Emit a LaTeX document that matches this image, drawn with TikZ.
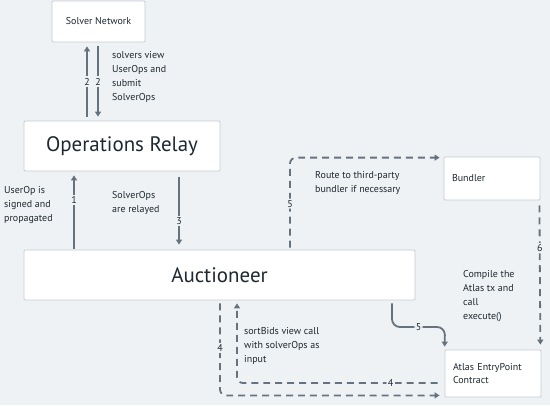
\documentclass[tikz,border=0pt]{standalone}
\usepackage{fontspec}
\setmainfont{PT Sans}
\usetikzlibrary{arrows.meta}
\definecolor{bg}{HTML}{EEF2F5}
\definecolor{edge}{HTML}{C3CCD5}
\definecolor{wire}{HTML}{66737F}
\definecolor{ink}{HTML}{1F2830}
\begin{document}
\begin{tikzpicture}[x=1bp, y=-1bp,
                    every node/.style={text=ink, font=\fontsize{10}{14}\selectfont},
                    box/.style={draw=edge, fill=white, line width=.8pt, rounded corners=1pt},
                    big/.style={font=\fontsize{21}{24}\selectfont},
                    flow/.style={draw=wire, line width=1.8pt, -{Triangle[length=5pt,width=6pt]}},
                    dflow/.style={flow, dash pattern=on 7pt off 5pt, rounded corners=6pt},
                    tag/.style={fill=bg, inner sep=1.5pt},
                    note/.style={align=left, anchor=north west, inner sep=0pt}]
  \fill[bg] (0,0) rectangle (550,405);
  % boxes
  \node[box, minimum width=93bp, minimum height=41bp] (solver) at (98.5,21.5) {Solver Network};
  \node[box, big, minimum width=196bp, minimum height=50bp] (relay) at (122,146) {Operations Relay};
  \node[box, big, minimum width=391bp, minimum height=50bp] (auct) at (219.5,275) {Auctioneer};
  \node[box, minimum width=96bp, minimum height=43bp, text width=80bp, align=left] (bundler) at (492,178.5) {Bundler};
  \node[box, minimum width=96bp, minimum height=47bp, text width=80bp, align=left, font=\fontsize{10}{13}\selectfont] (atlas) at (493,373.5) {Atlas EntryPoint\\Contract};
  % columns of the connectors
  \coordinate (c2up) at (87,0);
  \coordinate (c2dn) at (98,0);
  \coordinate (c1) at (74,0);
  \coordinate (c3) at (179,0);
  \coordinate (c5) at (290,0);
  \coordinate (c5b) at (392,0);
  \coordinate (k5) at (445,327);
  \coordinate (c4) at (220,0);
  \coordinate (c4b) at (237,0);
  % solid flows
  \draw[flow, shorten <=4bp, shorten >=4bp] (relay.north -| c2up) -- node[tag] {2} (solver.south -| c2up);
  \draw[flow, shorten <=4bp, shorten >=4bp] (solver.south -| c2dn) -- node[tag] {2} (relay.north -| c2dn);
  \draw[flow, shorten <=1bp, shorten >=4bp] (auct.north -| c1) -- node[tag, pos=.63] {1} (relay.south -| c1);
  \draw[flow, shorten <=6bp, shorten >=5bp] (relay.south -| c3) -- node[tag, pos=.64] {3} (auct.north -| c3);
  \draw[flow, rounded corners=8pt, shorten <=3bp, shorten >=3bp] (auct.south -| c5b) |- node[tag, pos=.75] {5} (k5) -- (atlas.north west);
  % dashed flows
  \draw[dflow, shorten <=2bp, shorten >=4bp] (auct.north -| c5) |- node[tag, pos=.25] {5} ([yshift=-1bp]bundler.north west);
  \draw[dflow, shorten <=5bp, shorten >=5bp] ([xshift=-1bp]bundler.south east) -- node[tag, pos=.32] {6} ([xshift=-1bp]atlas.north east);
  \draw[dflow, shorten <=3bp, shorten >=5bp] (auct.south -| c4) |- node[tag, pos=.25] {4} ([yshift=2bp]atlas.south west);
  \draw[dflow, shorten <=7bp, shorten >=3bp] ([yshift=-9.5bp]atlas.west) -| node[tag, pos=.13] {4} (auct.south -| c4b);
  % notes
  \node[note] (n2) at (112,51) {solvers view\\UserOps and\\submit\\SolverOps};
  \node[note] (n1) at (4,186) {UserOp is\\signed and\\propagated};
  \node[note] (n3) at (112,191) {SolverOps\\are relayed};
  \node[note] (n5) at (315,171) {Route to third-party\\bundler if necessary};
  \node[note] (n6) at (463,270) {Compile the\\Atlas tx and\\call\\execute()};
  \node[note] (n4) at (244,327) {sortBids view call\\with solverOps as\\input};
\end{tikzpicture}
\end{document}
